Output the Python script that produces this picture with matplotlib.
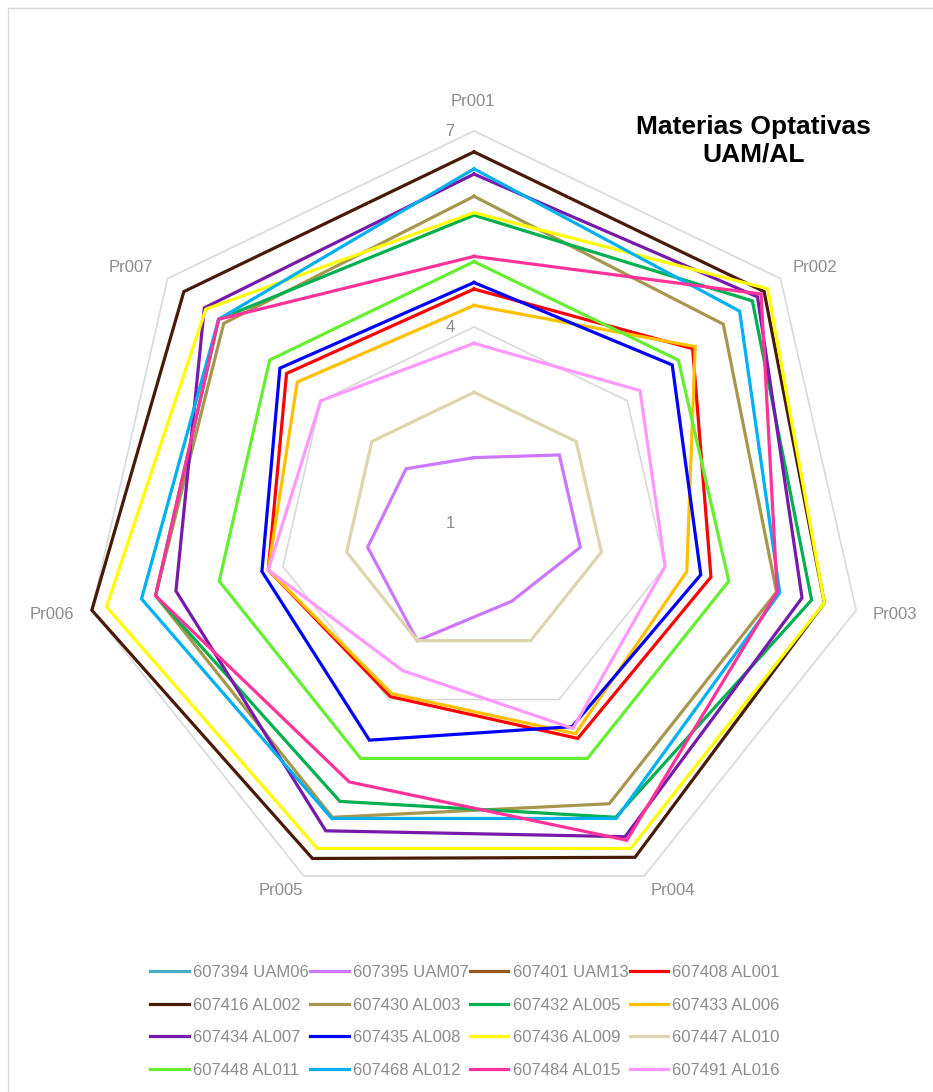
import numpy as np
import matplotlib.pyplot as plt
from matplotlib.patches import Rectangle

# categories (spokes) and series
categories = ["Pr001", "Pr002", "Pr003", "Pr004", "Pr005", "Pr006", "Pr007"]

series_names = [
    "607394 UAM06", "607395 UAM07", "607401 UAM13", "607408 AL001",
    "607416 AL002", "607430 AL003", "607432 AL005", "607433 AL006",
    "607434 AL007", "607435 AL008", "607436 AL009", "607447 AL010",
    "607448 AL011", "607468 AL012", "607484 AL015", "607491 AL016",
]

colors = [
    "#4BACC6", "#CC77FF", "#97581C", "#FF0000",
    "#4A1A08", "#A6974F", "#00B050", "#FFC000",
    "#7719AA", "#0000FF", "#FFFF00", "#DDD5AE",
    "#66EE33", "#00B0F0", "#FF3399", "#FF99FF",
]

nan = np.nan
uam06 = [nan, nan, nan, nan, nan, nan, nan]
uam07 = [2.0, 2.67, 2.67, 2.33, 3.0, 2.67, 2.33]
uam13 = [nan, nan, nan, nan, nan, nan, nan]
al001 = [4.58, 5.28, 4.72, 4.66, 3.95, 4.23, 4.67]
al002 = [6.68, 6.68, 6.5, 6.68, 6.7, 7.0, 6.68]
al003 = [6.0, 5.88, 5.75, 5.77, 6.0, 6.0, 5.9]
al005 = [5.71, 6.45, 6.3, 6.0, 5.73, 6.0, 6.0]
al006 = [4.33, 5.33, 4.34, 4.58, 3.9, 4.23, 4.46]
al007 = [6.34, 6.55, 6.15, 6.33, 6.23, 5.68, 6.28]
al008 = [4.68, 4.88, 4.56, 4.46, 4.69, 4.33, 4.8]
al009 = [5.75, 6.75, 6.5, 6.53, 6.53, 6.77, 6.25]
al010 = [3.0, 3.0, 3.0, 3.0, 3.0, 3.0, 3.0]
al011 = [5.0, 5.0, 5.0, 5.0, 5.0, 5.0, 5.0]
al012 = [6.42, 6.2, 5.8, 6.02, 6.02, 6.22, 6.0]
al015 = [5.08, 6.62, 5.76, 6.39, 5.4, 6.0, 6.0]
al016 = [3.75, 4.25, 4.0, 4.49, 3.51, 4.23, 4.0]

all_values = [uam06, uam07, uam13, al001, al002, al003, al005, al006,
              al007, al008, al009, al010, al011, al012, al015, al016]

r_min, r_max = 1, 7
grid_levels = [1, 4, 7]

font = ["Liberation Sans", "DejaVu Sans"]
gray = "#8C8C8C"

fig = plt.figure(figsize=(9.33, 10.92), dpi=100)
# chart area border (only top and left edges fall inside the picture)
fig.patches.append(Rectangle((0.0086, -0.05), 1.1, 1.0427, transform=fig.transFigure,
                             fill=False, edgecolor="#D9D9D9", linewidth=1.0))

ax = fig.add_axes([0.0879, 0.1621, 0.8403, 0.718], projection="polar")
ax.set_theta_offset(np.pi / 2)
ax.set_theta_direction(-1)
ax.set_ylim(r_min, r_max)
ax.grid(False)
ax.spines["polar"].set_visible(False)
ax.set_xticks([])
ax.set_yticks([])
ax.patch.set_alpha(0)

theta = np.linspace(0, 2 * np.pi, len(categories), endpoint=False)
theta_closed = np.append(theta, theta[0])

# polygon gridlines
for lvl in grid_levels[1:]:
    ax.plot(theta_closed, [lvl] * (len(categories) + 1), color="#D9D9D9",
            linewidth=1.2, zorder=1, clip_on=False)

handles = []
for name, vals, col in zip(series_names, all_values, colors):
    v = np.append(vals, vals[0])
    h, = ax.plot(theta_closed, v, color=col, linewidth=2.3, label=name,
                 zorder=2, clip_on=False, solid_joinstyle="miter")
    handles.append(h)

# category labels, nudged out from the outer vertex (pixels)
label_offsets = [(-1, 29), (34, 11), (39, -4), (29, -14), (-23, -14), (-40, -4), (-37, 11)]
for t, cat, off in zip(theta, categories, label_offsets):
    ax.annotate(cat, xy=(t, r_max), xytext=off, textcoords="offset pixels",
                ha="center", va="center", fontsize=12, color=gray, family=font)

for lvl in grid_levels:
    ax.annotate(str(lvl), xy=(0, lvl), xytext=(-24, -1), textcoords="offset pixels",
                ha="center", va="center", fontsize=12, color=gray, family=font)

fig.text(0.8076, 0.8709, "Materias Optativas\nUAM/AL", ha="center", va="center",
         fontsize=19, fontweight="bold", color="black", family=font,
         linespacing=1.2)

# legend fills column by column; reorder so it reads row by row
ncol = 4
nrow = int(np.ceil(len(handles) / ncol))
order = [r * ncol + c for c in range(ncol) for r in range(nrow)]
leg = fig.legend([handles[i] for i in order], [series_names[i] for i in order],
                 loc="upper center", bbox_to_anchor=(0.4985, 0.13), ncol=ncol,
                 frameon=False, prop={"family": font, "size": 12},
                 handlelength=2.3, handletextpad=0.25, columnspacing=0.1,
                 labelspacing=1.05)
for txt in leg.get_texts():
    txt.set_color(gray)

fig.savefig("out.png", dpi=100)
